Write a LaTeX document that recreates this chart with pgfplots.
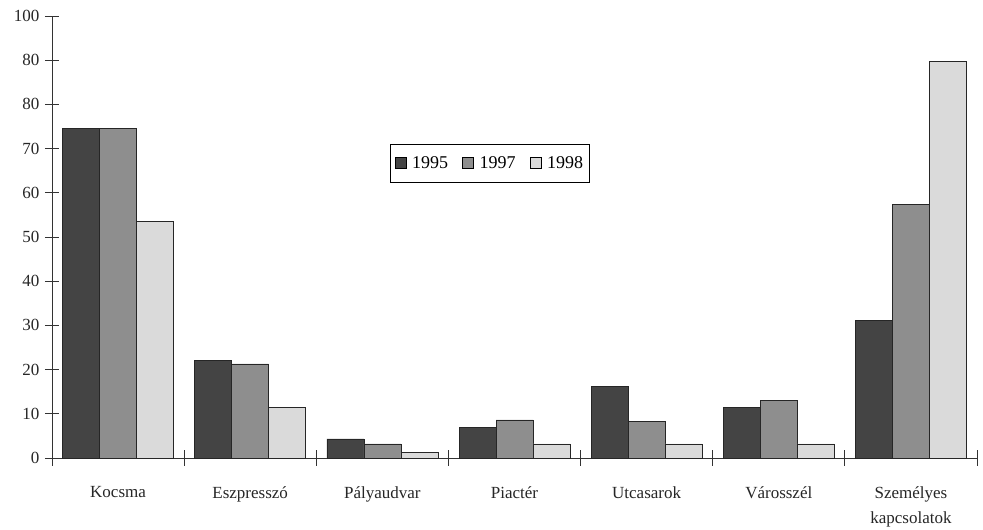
\documentclass[border=0pt]{standalone}
\usepackage{pgfplots}
\pgfplotsset{compat=1.18}
\usepackage{fontspec}
\setmainfont{Liberation Serif}
\definecolor{cA}{HTML}{444444}
\definecolor{cB}{HTML}{8E8E8E}
\definecolor{cC}{HTML}{DADADA}
\begin{document}
\begin{tikzpicture}[x=1pt,y=1pt]
\begin{axis}[
  at={(0,0)}, anchor=south west,
  scale only axis, width=925pt, height=442pt,
  axis x line*=bottom, axis y line*=left, axis line style={-, black!80, line width=0.8pt},
  xtick pos=bottom, ytick pos=left,
  xmin=-0.5, xmax=6.5, ymin=0, ymax=100,
  ybar=0pt, bar width=37pt,
  xtick={0,...,6},
  xticklabels={Kocsma,Eszpresszó,Pályaudvar,Piactér,Utcasarok,Városszél,{Személyes\\kapcsolatok}},
  xticklabel style={align=center, font=\fontsize{17}{25}\selectfont, yshift=-18pt, text=black!85},
  major x tick style={draw=none},
  minor xtick={-0.5,0.5,...,6.5},
  minor tick length=16pt,
  minor x tick style={black!80, line width=0.8pt},
  ytick={0,10,...,100},
  yticklabels={0,10,20,30,40,50,60,70,80,80,100},
  yticklabel style={font=\fontsize{17}{19}\selectfont, text=black!85, xshift=-2pt},
  major tick length=14pt,
  tick align=center,
  major y tick style={black!80, line width=0.8pt},
  /pgf/number format/assume math mode=true,
  legend columns=3,
  legend style={at={(0.4735,0.667)}, anchor=center, draw=black, line width=0.6pt,
    font=\fontsize{18}{20}\selectfont, inner xsep=4pt, inner ysep=10pt,
    /tikz/every odd column/.append style={column sep=4pt},
    /tikz/every even column/.append style={column sep=12pt}},
  legend image code/.code={\draw[#1, draw=black, line width=0.5pt] (0pt,-5pt) rectangle (11pt,6pt);},
  clip=false,
]
\addplot[fill=cA, draw=black!85, line width=0.6pt] coordinates {(0,74.5) (1,22.1) (2,4.3) (3,6.9) (4,16.2) (5,11.4) (6,31.2)};
\addplot[fill=cB, draw=black!85, line width=0.6pt] coordinates {(0,74.5) (1,21.3) (2,3.2) (3,8.6) (4,8.3) (5,13) (6,57.3)};
\addplot[fill=cC, draw=black!85, line width=0.6pt] coordinates {(0,53.5) (1,11.4) (2,1.2) (3,3.2) (4,3.2) (5,3.2) (6,89.7)};
\legend{1995,1997,1998}
\end{axis}
\pgfresetboundingbox
\path[use as bounding box] (-52pt,-72pt) rectangle (931pt,458pt);
\end{tikzpicture}
\end{document}
